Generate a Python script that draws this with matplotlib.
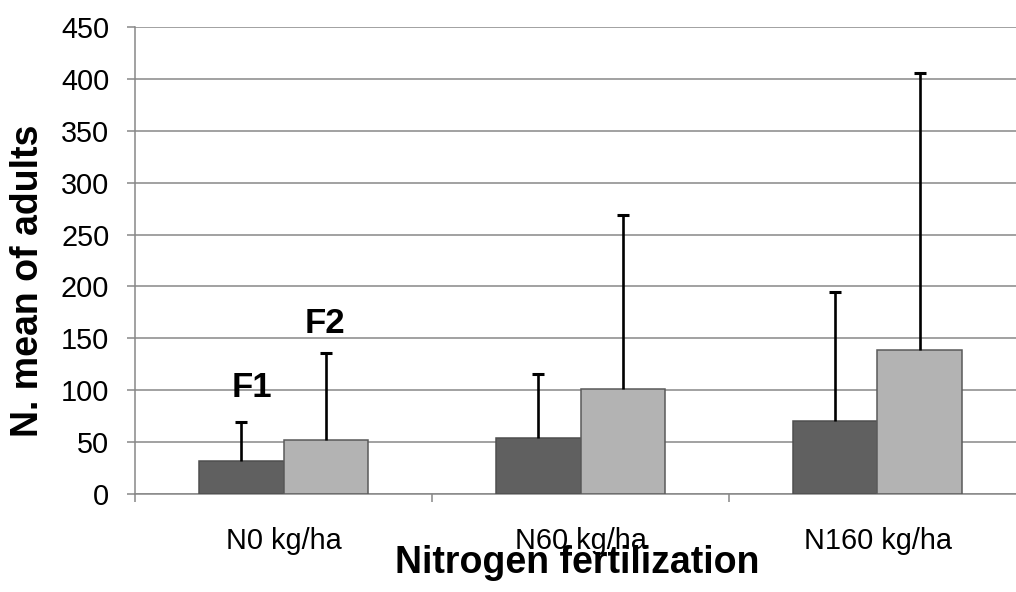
import matplotlib
matplotlib.use("Agg")
import matplotlib.pyplot as plt
import numpy as np

plt.rcParams['font.family'] = ['Liberation Sans', 'DejaVu Sans']

categories = ["N0 kg/ha", "N60 kg/ha", "N160 kg/ha"]
f1_means = [32, 54, 70]
f1_err = [37, 62, 125]
f2_means = [52, 101, 139]
f2_err = [84, 168, 267]
yticks = [0, 50, 100, 150, 200, 250, 300, 350, 400, 450]

fig = plt.figure(figsize=(10.16, 5.92), dpi=100)
ax = fig.add_axes([135/1016, 98/592, 891/1016, 467/592])

x = np.arange(len(categories))
w = 0.286
grid_c = "#878787"

ax.bar(x - w/2, f1_means, w, color="#606060", edgecolor="#4f4f4f", linewidth=1.1, zorder=3)
ax.bar(x + w/2, f2_means, w, color="#b3b3b3", edgecolor="#5a5a5a", linewidth=1.1, zorder=3)

# upper-only error bars
for xs, m, e in [(x - w/2, f1_means, f1_err), (x + w/2, f2_means, f2_err)]:
    m = np.asarray(m, dtype=float)
    e = np.asarray(e, dtype=float)
    ax.vlines(xs, m, m + e, color="black", linewidth=1.9, zorder=4)
    ax.plot(xs, m + e, linestyle='none', marker='_', markersize=9, markeredgewidth=2.2,
            color="black", zorder=4)

ax.set_xlim(-0.5, 2.5)
ax.set_ylim(0, 450)
ax.set_yticks(yticks)
ax.set_yticklabels([str(v) for v in yticks], fontsize=20.8)
ax.yaxis.grid(True, color=grid_c, linewidth=1.1, zorder=0)
ax.set_axisbelow(True)

ax.set_xticks(x)
ax.set_xticklabels(categories, fontsize=20.8)
ax.set_xticks([-0.5, 0.5, 1.5, 2.5], minor=True)
ax.tick_params(axis='x', which='major', length=0, pad=23.5)
ax.tick_params(axis='x', which='minor', length=6, color=grid_c, width=1.1, direction='out')
ax.tick_params(axis='y', length=6, color=grid_c, width=1.1, direction='out', pad=12.5)

for s in ['top', 'right']:
    ax.spines[s].set_visible(False)
for s in ['left', 'bottom']:
    ax.spines[s].set_color(grid_c)
    ax.spines[s].set_linewidth(1.1)

ax.text(-0.106, 93, "F1", fontsize=25, fontweight='bold', ha='center', va='baseline')
ax.text(0.14, 155, "F2", fontsize=25, fontweight='bold', ha='center', va='baseline')

fig.text(577/1016, 1 - 563/592, "Nitrogen fertilization", fontsize=27, fontweight='bold',
         ha='center', va='center')
fig.text(28/1016, 1 - 281/592, "N. mean of adults", fontsize=27, fontweight='bold',
         ha='center', va='center', rotation=90)

fig.savefig("out.png", dpi=100)
